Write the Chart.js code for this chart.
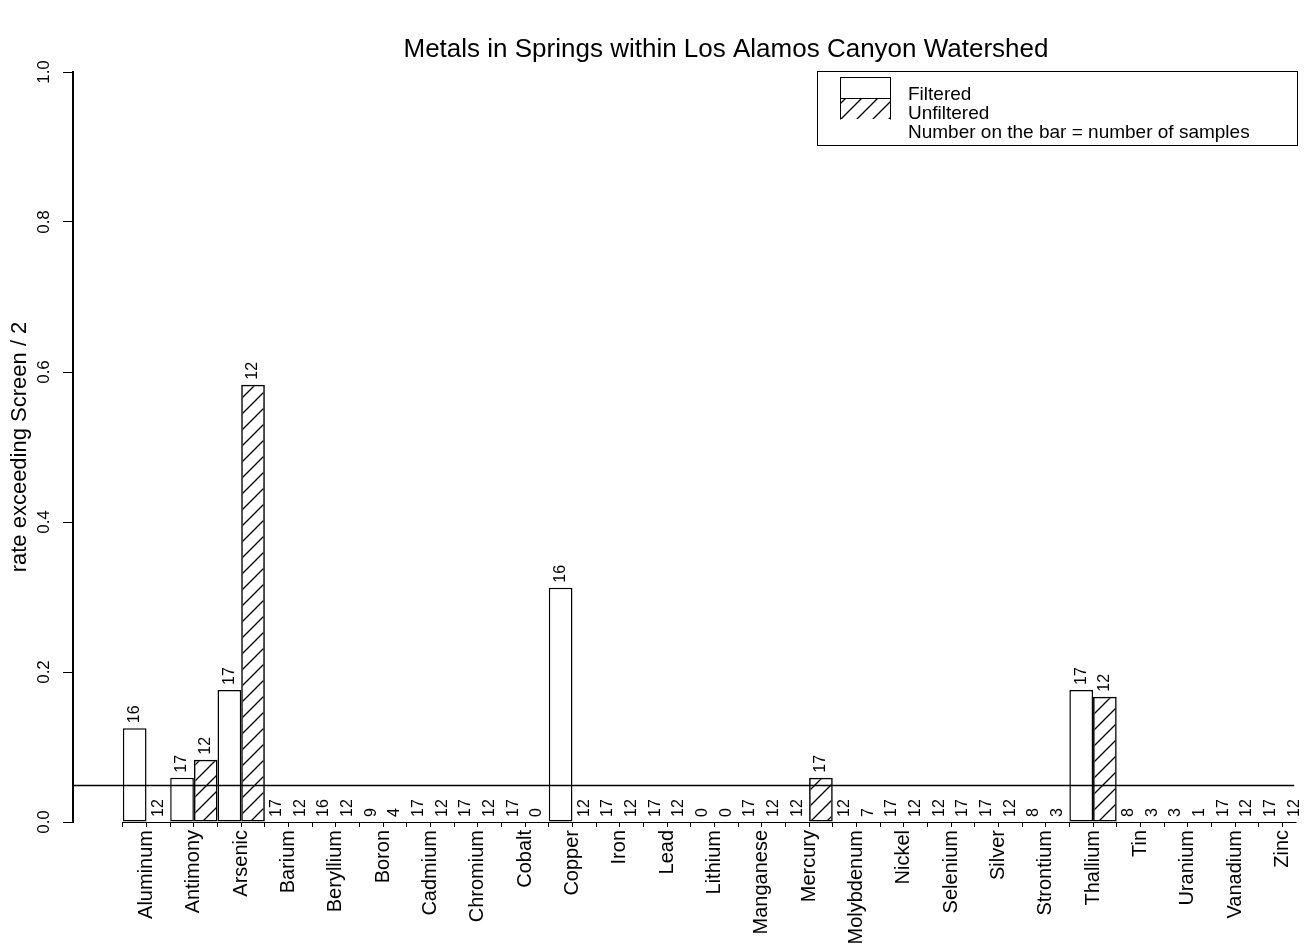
<!DOCTYPE html>
<html>
<head>
<meta charset="utf-8">
<script src="https://cdn.jsdelivr.net/npm/chart.js@4.4.1/dist/chart.umd.min.js"></script>
<style>
  html, body { margin: 0; padding: 0; background: #fff; }
  canvas { display: block; }
</style>
</head>
<body>
<canvas id="chart" width="1306" height="951"></canvas>
<script>
const metals = ['Aluminum', 'Antimony', 'Arsenic', 'Barium', 'Beryllium', 'Boron', 'Cadmium',
    'Chromium', 'Cobalt', 'Copper', 'Iron', 'Lead', 'Lithium', 'Manganese', 'Mercury',
    'Molybdenum', 'Nickel', 'Selenium', 'Silver', 'Strontium', 'Thallium', 'Tin', 'Uranium',
    'Vanadium', 'Zinc'];

// rate exceeding screen / 2
const filteredRate = [0.125, 0.059, 0.176, 0, 0, 0, 0, 0, 0, 0.3125, 0, 0, 0, 0, 0,
    0, 0, 0, 0, 0, 0.176, 0, 0, 0, 0];
const unfilteredRate = [0, 0.083, 0.583, 0, 0, 0, 0, 0, 0, 0, 0, 0, 0, 0, 0.059,
    0, 0, 0, 0, 0, 0.167, 0, 0, 0, 0];

// number of samples (printed on the bars)
const filteredN = [16, 17, 17, 17, 16, 9, 17, 17, 17, 16, 17, 17, 0, 17, 12,
    12, 17, 12, 17, 8, 17, 8, 3, 17, 17];
const unfilteredN = [12, 12, 12, 12, 12, 4, 12, 12, 0, 12, 12, 12, 0, 12, 17,
    7, 12, 17, 12, 3, 12, 3, 1, 12, 12];

const yTicks = [0, 0.2, 0.4, 0.6, 0.8, 1.0];
const screenLine = 0.05;

const FONT = '"Liberation Sans", Arial, Helvetica, sans-serif';

const canvas = document.getElementById('chart');
const ctx = canvas.getContext('2d');

function makeHatch() {
    const size = 16;
    const c = document.createElement('canvas');
    c.width = size;
    c.height = size;
    const g = c.getContext('2d');
    g.strokeStyle = '#000';
    g.lineWidth = 1.3;
    g.beginPath();
    g.moveTo(-2, size + 2); g.lineTo(size + 2, -2);
    g.moveTo(-2, 2); g.lineTo(2, -2);
    g.moveTo(size - 2, size + 2); g.lineTo(size + 2, size - 2);
    g.stroke();
    return ctx.createPattern(c, 'repeat');
}
const hatch = makeHatch();

const decorations = {
    id: 'decorations',
    afterDraw(chart) {
        const { ctx, chartArea, scales: { x, y } } = chart;
        ctx.save();
        ctx.fillStyle = '#000';
        ctx.strokeStyle = '#000';

        // title
        ctx.font = '26px ' + FONT;
        ctx.textAlign = 'center';
        ctx.textBaseline = 'alphabetic';
        ctx.fillText('Metals in Springs within Los Alamos Canyon Watershed', 726, 57);

        // y title
        ctx.save();
        ctx.translate(20, (chartArea.top + chartArea.bottom) / 2);
        ctx.rotate(-Math.PI / 2);
        ctx.font = '22px ' + FONT;
        ctx.textAlign = 'center';
        ctx.textBaseline = 'middle';
        ctx.fillText('rate exceeding Screen / 2', 0, 0);
        ctx.restore();

        // y tick labels, parallel to the axis
        ctx.font = '17px ' + FONT;
        yTicks.forEach(v => {
            ctx.save();
            ctx.translate(44, y.getPixelForValue(v));
            ctx.rotate(-Math.PI / 2);
            ctx.textAlign = 'center';
            ctx.textBaseline = 'middle';
            ctx.fillText(v.toFixed(1), 0, 0);
            ctx.restore();
        });

        // x axis line
        ctx.lineWidth = 1.2;
        const ay = Math.round(chartArea.bottom) + 0.5;
        ctx.beginPath();
        ctx.moveTo(x.getPixelForValue(-0.5), ay);
        ctx.lineTo(x.getPixelForValue(24.3), ay);
        ctx.stroke();

        // screen line
        const sy = Math.round(y.getPixelForValue(screenLine)) + 0.5;
        ctx.lineWidth = 1.5;
        ctx.beginPath();
        ctx.moveTo(chartArea.left, sy);
        ctx.lineTo(x.getPixelForValue(24.25), sy);
        ctx.stroke();

        // sample counts above each bar
        ctx.font = '16px ' + FONT;
        chart.data.datasets.forEach((ds, di) => {
            const meta = chart.getDatasetMeta(di);
            meta.data.forEach((bar, i) => {
                ctx.save();
                ctx.translate(bar.x, bar.y - 5);
                ctx.rotate(-Math.PI / 2);
                ctx.textAlign = 'left';
                ctx.textBaseline = 'middle';
                ctx.fillText(String(ds.counts[i]), 0, 0);
                ctx.restore();
            });
        });

        // legend
        ctx.lineWidth = 1;
        ctx.strokeRect(817.5, 71.5, 480, 74);
        ctx.strokeRect(840.5, 77.5, 50, 21);
        ctx.fillStyle = hatch;
        ctx.fillRect(841, 99, 49, 20);
        ctx.beginPath();
        ctx.moveTo(840.5, 98.5); ctx.lineTo(840.5, 119.5);
        ctx.moveTo(890.5, 98.5); ctx.lineTo(890.5, 119.5);
        ctx.stroke();
        ctx.fillStyle = '#000';
        ctx.font = '19px ' + FONT;
        ctx.textAlign = 'left';
        ctx.textBaseline = 'alphabetic';
        ctx.fillText('Filtered', 908, 100);
        ctx.fillText('Unfiltered', 908, 119);
        ctx.fillText('Number on the bar = number of samples', 908, 138);

        ctx.restore();
    }
};

new Chart(canvas, {
    type: 'bar',
    data: {
        datasets: [{
            label: 'Filtered',
            data: filteredRate.map((v, i) => ({ x: i, y: v })),
            counts: filteredN,
            backgroundColor: '#fff',
            borderColor: '#000',
            borderWidth: 1.5,
            borderSkipped: false
        }, {
            label: 'Unfiltered',
            data: unfilteredRate.map((v, i) => ({ x: i, y: v })),
            counts: unfilteredN,
            backgroundColor: hatch,
            borderColor: '#000',
            borderWidth: 1.5,
            borderSkipped: false
        }]
    },
    options: {
        responsive: false,
        animation: false,
        devicePixelRatio: 1,
        // sample size is the half-step tick spacing, so a full group spans 2 of them
        categoryPercentage: 2,
        barPercentage: 1,
        layout: { padding: { top: 72, left: 0, right: 0, bottom: 0 } },
        plugins: {
            legend: { display: false },
            tooltip: { enabled: false }
        },
        scales: {
            x: {
                type: 'linear',
                min: -1.554,
                max: 24.5,
                offset: false,
                border: { display: false },
                grid: {
                    offset: false,
                    drawOnChartArea: false,
                    drawTicks: true,
                    tickLength: 5,
                    color: '#000',
                    lineWidth: 1
                },
                ticks: {
                    stepSize: 0.5,
                    includeBounds: true,
                    autoSkip: false,
                    minRotation: 90,
                    maxRotation: 90,
                    padding: 3,
                    color: '#000',
                    font: { family: FONT, size: 20 },
                    callback: v => Math.abs(v - Math.round(v)) < 1e-6 ? metals[Math.round(v)] : ''
                },
                afterBuildTicks: scale => {
                    scale.ticks = scale.ticks.filter(t => t.value >= -0.5 - 1e-6);
                },
                afterFit: scale => {
                    scale.height = 129;
                    scale.paddingLeft = 0;
                    scale.paddingRight = 0;
                }
            },
            y: {
                min: 0,
                max: 1,
                border: { display: true, color: '#000', width: 2 },
                grid: {
                    drawOnChartArea: false,
                    drawTicks: true,
                    tickLength: 10,
                    color: '#000',
                    lineWidth: 1
                },
                ticks: { stepSize: 0.2, display: false },
                afterFit: scale => {
                    scale.width = 73;
                    scale.paddingTop = 0;
                    scale.paddingBottom = 0;
                }
            }
        }
    },
    plugins: [decorations]
});
</script>
</body>
</html>
